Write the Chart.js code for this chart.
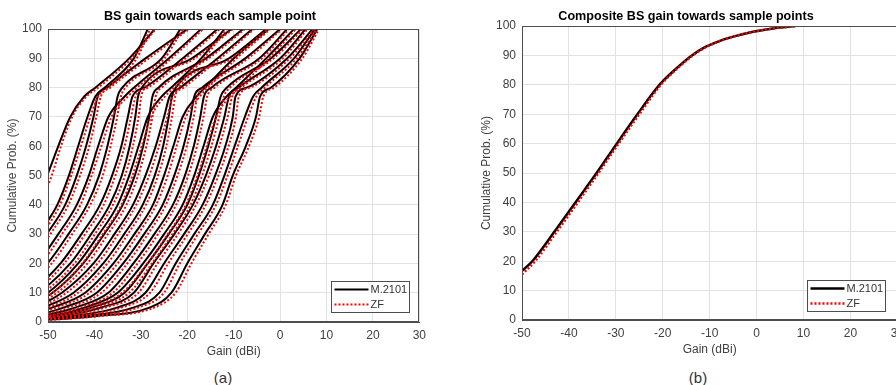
<!DOCTYPE html>
<html>
<head>
<meta charset="utf-8">
<script src="https://cdn.jsdelivr.net/npm/chart.js@4.4.0/dist/chart.umd.min.js"></script>
<style>
  html, body { margin: 0; padding: 0; background: #fff; overflow: hidden; width: 896px; height: 385px; }
  .panel { position: absolute; top: 0; }
  #leftBox { left: 0; width: 432px; height: 365px; }
  #rightBox { left: 450px; width: 460px; height: 362px; }
  .cap { position: absolute; top: 369px; line-height: 16px; font: 15px "Liberation Sans", Arial, sans-serif; color: #333; transform: translateX(-50%); }
</style>
</head>
<body>
<div class="panel" id="leftBox"><canvas id="leftChart"></canvas></div>
<div class="panel" id="rightBox"><canvas id="rightChart"></canvas></div>
<div class="cap" style="left:223px">(a)</div>
<div class="cap" style="left:698px">(b)</div>
<script>
// cumulative probability levels (%) at which each per-point curve is sampled
var probLevels = [0, 2, 5, 10, 20, 30, 40, 50, 60, 70, 77, 80, 90, 100];

// gain (dBi) reached at each probability level, one row per sample point
var m2101Gains = [
  [-95, -90, -84, -76, -66, -58, -53, -50.2, -47.8, -45.2, -42.2, -39.8, -32.5, -27],
  [-88, -76, -69, -63, -56.5, -52, -48, -45.5, -43.5, -41.5, -39.8, -37.8, -31.5, -28.5],
  [-86, -74, -67.5, -61, -55, -50.3, -46.3, -43.8, -41.8, -40.2, -39.3, -37.3, -29, -20],
  [-84, -71.5, -65, -59, -52.3, -47.8, -43.8, -41.2, -39.2, -37, -33.5, -31.5, -24, -17],
  [-82, -69, -63, -56.5, -50.1, -45.6, -41.6, -39, -37.2, -35.8, -35, -34, -25.5, -21.5],
  [-79, -66.5, -60, -54, -47.3, -42.8, -38.8, -36.2, -34.2, -32.8, -31.8, -29.2, -21, -13.5],
  [-77, -64.5, -58, -52, -45.2, -40.7, -36.7, -34.1, -32.4, -31.2, -30.6, -29.8, -19, -10.5],
  [-75, -62.5, -56, -50, -43.5, -39, -35, -32.5, -30.5, -28.5, -25.5, -23.5, -17, -12],
  [-74, -61.5, -55, -49, -42.4, -37.9, -33.9, -31.3, -29.5, -28.2, -27.5, -26.2, -16, -8],
  [-72, -59.5, -53, -47, -40.2, -35.7, -31.7, -29, -26.8, -25, -23.8, -21.5, -13.5, -6],
  [-70, -57.5, -51, -44.5, -38.1, -33.6, -29.6, -27, -25.2, -24, -23.3, -22.5, -11, -3],
  [-68, -55.5, -49, -42, -35.9, -31.4, -27.4, -25, -23, -21, -18, -16.2, -10, -2.5],
  [-66, -53.5, -46.5, -39.5, -33.8, -29.3, -25.3, -22.8, -20.8, -19.3, -18.5, -16.8, -7.5, 0],
  [-64, -51.5, -44, -37, -31.6, -27.1, -23.1, -20.5, -18.6, -17.2, -16.4, -14.8, -4.5, 1.5],
  [-62, -49.5, -42, -35, -29.5, -25, -21, -18.5, -16.5, -14.5, -11.5, -9.5, -3, 3],
  [-61, -48.5, -40.5, -33.5, -28.5, -24, -20, -17.5, -15.5, -13.8, -12.8, -11.5, -2, 4.5],
  [-60, -47, -38.5, -31.5, -27.3, -22.8, -18.8, -16, -13.8, -12, -11, -9, 0, 5.5],
  [-60, -45, -35, -29, -25, -20.7, -16.7, -14, -11.8, -10.2, -9.6, -7.2, 1.5, 7],
  [-60, -42.5, -31.5, -26, -22.5, -18.5, -14.5, -12, -9.8, -7.6, -5.8, -4, 3, 7.5],
  [-60, -40, -28, -23.4, -20, -16.2, -12.4, -10.2, -7.4, -5.2, -4.3, -2, 4.2, 8]
];

var zfGains = [
  [-94, -89, -83, -75, -65, -57, -51.8, -49.2, -47.2, -44.8, -41.7, -39.2, -32, -26.8],
  [-87, -75, -68, -62, -55.5, -51.2, -47.4, -45, -42.9, -40.9, -39.2, -37.1, -30.9, -28],
  [-85, -73, -66.5, -60, -54, -49.5, -45.6, -43.1, -41.1, -39.6, -38.6, -36.6, -28.3, -19.6],
  [-83, -70.5, -64, -58, -51.4, -47, -43, -40.6, -38.5, -36.3, -32.8, -30.8, -23.4, -16.6],
  [-81, -68, -62, -55.5, -49.2, -44.8, -40.9, -38.2, -36.5, -35.1, -34.3, -33.3, -24.9, -21],
  [-78, -65.5, -59, -53, -46.5, -42, -38, -35.5, -33.5, -32.1, -31.1, -28.5, -20.4, -13],
  [-76, -63.5, -57, -51, -44.3, -39.9, -36, -33.4, -31.7, -30.5, -29.9, -29.1, -18.4, -10.2],
  [-74, -61.5, -55, -49, -42.6, -38.2, -34.2, -31.8, -29.8, -27.8, -24.8, -22.8, -16.4, -11.6],
  [-73, -60.5, -54, -48, -41.5, -37.1, -33.1, -30.6, -28.8, -27.5, -26.8, -25.5, -15.4, -7.6],
  [-71, -58.5, -52, -46, -39.3, -34.9, -31, -28.2, -26.1, -24.3, -23.1, -20.8, -12.9, -5.6],
  [-69, -56.5, -50, -43.5, -37.2, -32.8, -28.9, -26.3, -24.5, -23.3, -22.6, -21.8, -10.4, -2.6],
  [-67, -54.5, -48, -41, -35, -30.6, -26.7, -24.2, -22.3, -20.3, -17.3, -15.5, -9.4, -2.1],
  [-65, -52.5, -45.5, -38.5, -32.9, -28.5, -24.6, -22.1, -20.1, -18.6, -17.8, -16.1, -6.9, 0.4],
  [-63, -50.5, -43, -36, -30.7, -26.3, -22.4, -19.8, -17.9, -16.5, -15.7, -14.1, -3.9, 1.9],
  [-61, -48.5, -41, -34, -28.6, -24.2, -20.3, -17.8, -15.8, -13.8, -10.8, -8.8, -2.4, 3.4],
  [-60, -47.5, -39.5, -32.5, -27.6, -23.2, -19.3, -16.8, -14.8, -13.1, -12.1, -10.8, -1.4, 4.9],
  [-59, -46, -37.5, -30.5, -26.4, -22, -18.1, -15.3, -13.1, -11.3, -10.3, -8.3, 0.6, 5.9],
  [-59, -44, -34, -28, -24.1, -19.9, -16, -13.3, -11.1, -9.5, -8.9, -6.5, 2.1, 7.4],
  [-59, -41.5, -30.5, -25, -21.6, -17.7, -13.8, -11.3, -9.1, -6.9, -5.1, -3.3, 3.6, 7.9],
  [-59, -39, -27, -22.5, -19.1, -15.4, -11.7, -9.5, -6.7, -4.5, -3.6, -1.3, 4.8, 8.4]
];

// composite CDF over all sample points
var compM2101Gain = [-50, -47.8, -43.1, -38.6, -34.1, -29.8, -25.4, -20.7, -16.8, -13.8, -10.8, -7.8, -4.8, -1, 3.5, 8.3];
var compM2101Prob = [16.7, 20, 30, 40, 50, 60, 70, 80, 86, 90, 93, 95, 96.5, 98, 99.2, 100];
var compZfGain = [-50, -47.2, -42.6, -38.1, -33.7, -29.4, -25, -20.4, -16.6, -13.6, -10.6, -7.7, -4.7, -0.9, 3.6, 8.3];
var compZfProb = [15.5, 20, 30, 40, 50, 60, 70, 80, 86, 90, 93, 95, 96.5, 98, 99.2, 100];

var xTicksMin = -50, xTicksMax = 30;
var yTicksMin = 0, yTicksMax = 100;

var fontFamily = '"Liberation Sans", Arial, Helvetica, sans-serif';
var textColor = '#404040';
var gridColor = '#e2e2e2';
var boxColor = '#4d4d4d';

function toPoints(xs, ys) {
  return xs.map(function(x, i) { return { x: x, y: ys[i] }; });
}

// box round the axes plus a small legend in the lower right corner
var frameAndLegend = {
  id: 'frameAndLegend',
  afterDatasetsDraw: function(chart, args, opts) {
    var ctx = chart.ctx;
    var a = chart.chartArea;
    ctx.save();
    ctx.strokeStyle = boxColor;
    ctx.lineWidth = 1;
    ctx.strokeRect(Math.round(a.left) + 0.5, Math.round(a.top) + 0.5,
      Math.round(a.right - a.left) - 1, Math.round(a.bottom - a.top) - 1);

    var w = 78, h = 31;
    var x = Math.round(a.right - opts.right - w) + 0.5;
    var y = Math.round(a.bottom - opts.bottom - h) + 0.5;
    ctx.fillStyle = '#fff';
    ctx.fillRect(x, y, w, h);
    ctx.strokeRect(x, y, w, h);

    var items = [chart.data.datasets[0], chart.data.datasets[1]];
    ctx.font = '11px ' + fontFamily;
    ctx.textBaseline = 'middle';
    items.forEach(function(ds, i) {
      var ly = y + 8 + i * 15;
      ctx.beginPath();
      ctx.strokeStyle = ds.borderColor;
      ctx.lineWidth = ds.borderWidth;
      ctx.setLineDash(ds.borderDash || []);
      ctx.moveTo(x + 3, ly);
      ctx.lineTo(x + 37, ly);
      ctx.stroke();
      ctx.setLineDash([]);
      ctx.fillStyle = '#333';
      ctx.fillText(ds.label, x + 39, ly + 0.5);
    });
    ctx.restore();
  }
};

function axisOptions(yTitle) {
  return {
    x: {
      type: 'linear', min: xTicksMin, max: xTicksMax,
      ticks: { stepSize: 10, color: textColor, font: { size: 12, family: fontFamily }, padding: 6, maxRotation: 0 },
      grid: { color: gridColor, drawTicks: false },
      border: { color: boxColor },
      title: { display: true, text: 'Gain (dBi)', color: textColor, font: { size: 12, family: fontFamily }, padding: { top: 0, bottom: 3 } },
      afterFit: function(s) { s.height = 40; }
    },
    y: {
      type: 'linear', min: yTicksMin, max: yTicksMax,
      ticks: { stepSize: 10, color: textColor, font: { size: 12, family: fontFamily }, padding: 6 },
      grid: { color: gridColor, drawTicks: false },
      border: { color: boxColor },
      title: { display: true, text: yTitle, color: textColor, font: { size: 12, family: fontFamily }, padding: { top: 5, bottom: 0 } },
      afterFit: function(s) { s.width = 48; }
    }
  };
}

// panel (a): one pair of curves per sample point
var leftSets = [];
for (var i = 0; i < m2101Gains.length; i++) {
  leftSets.push({
    label: 'M.2101',
    data: toPoints(m2101Gains[i], probLevels),
    borderColor: '#000000', borderWidth: 2, order: 2
  });
  leftSets.push({
    label: 'ZF',
    data: toPoints(zfGains[i], probLevels),
    borderColor: '#ff0000', borderWidth: 2, borderDash: [2, 2], order: 1
  });
}

var commonDataset = { pointRadius: 0, fill: false, cubicInterpolationMode: 'monotone' };
Chart.defaults.datasets.line = Object.assign({}, Chart.defaults.datasets.line, commonDataset);

new Chart(document.getElementById('leftChart'), {
  type: 'line',
  data: { datasets: leftSets },
  options: {
    responsive: true, maintainAspectRatio: false, animation: false, events: [],
    layout: { padding: { left: 0, right: 12, top: 0, bottom: 3 } },
    scales: axisOptions('Cumulative Prob. (%)'),
    plugins: {
      legend: { display: false },
      tooltip: { enabled: false },
      title: { display: true, text: 'BS gain towards each sample point', color: '#000',
        font: { size: 12.6, weight: 'bold', family: fontFamily }, padding: { top: 9, bottom: 5 } },
      frameAndLegend: { right: 10, bottom: 10 }
    }
  },
  plugins: [frameAndLegend]
});

// panel (b): composite curve
new Chart(document.getElementById('rightChart'), {
  type: 'line',
  data: {
    datasets: [
      { label: 'M.2101', data: toPoints(compM2101Gain, compM2101Prob), borderColor: '#000000', borderWidth: 2.5, order: 2 },
      { label: 'ZF', data: toPoints(compZfGain, compZfProb), borderColor: '#ff0000', borderWidth: 2.5, borderDash: [2, 2], order: 1 }
    ]
  },
  options: {
    responsive: true, maintainAspectRatio: false, animation: false, events: [],
    layout: { padding: { left: 24, right: 12, top: 0, bottom: 2 } },
    scales: axisOptions('Cumulative Prob. (%)'),
    plugins: {
      legend: { display: false },
      tooltip: { enabled: false },
      title: { display: true, text: 'Composite BS gain towards sample points', color: '#000',
        font: { size: 12.6, weight: 'bold', family: fontFamily }, padding: { top: 9, bottom: 2 } },
      frameAndLegend: { right: 12, bottom: 9 }
    }
  },
  plugins: [frameAndLegend]
});
</script>
</body>
</html>
